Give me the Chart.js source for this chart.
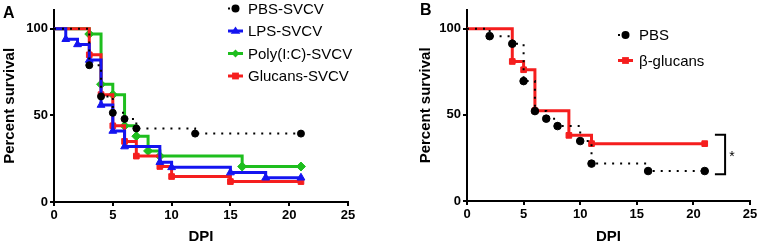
<!DOCTYPE html>
<html>
<head>
<meta charset="utf-8">
<script src="https://cdn.jsdelivr.net/npm/chart.js@4.4.1/dist/chart.umd.min.js"></script>
<style>
  html, body { margin: 0; padding: 0; background: #fff; }
  #wrap { position: relative; width: 760px; height: 246px; overflow: hidden; }
  #wrap canvas { position: absolute; top: 0; }
  #chartA { left: 0; }
  #chartB { left: 380px; }
  .panel { position: absolute; font: bold 16px Arial, "Liberation Sans", sans-serif; color: #000; line-height: normal; }
</style>
</head>
<body>
<div id="wrap">
  <canvas id="chartA" width="380" height="246"></canvas>
  <canvas id="chartB" width="380" height="246"></canvas>
  <div class="panel" style="left:3px;top:4px">A</div>
  <div class="panel" style="left:420px;top:1px">B</div>
</div>
<script>
// ticks
const dpiTicks = [0, 5, 10, 15, 20, 25];
const survivalTicks = [0, 50, 100];

// Panel A - dias post infeccion y % supervivencia
const pbsA_days = [0, 3, 4, 5, 6, 7, 12, 21];
const pbsA_surv = [100, 79, 61, 51.5, 48, 42.5, 39.5, 39.5];
const lpsA_days = [0, 1, 2, 3, 4, 5, 6, 9, 10, 15, 18, 21];
const lpsA_surv = [100, 94, 91, 82, 56, 41, 32, 23, 20, 17, 14, 14];
const polyA_days = [0, 3, 4, 5, 6, 7, 8, 9, 16, 21];
const polyA_surv = [100, 97, 68, 62, 44, 38, 29.5, 26.5, 20.5, 20.5];
const glucA_days = [0, 3, 4, 5, 6, 7, 9, 10, 15, 21];
const glucA_surv = [100, 85, 62, 44, 35, 26.5, 20.5, 14.7, 11.8, 11.8];

// Panel B
const pbsB_days = [0, 2, 4, 5, 6, 7, 8, 10, 11, 16, 21];
const pbsB_surv = [100, 95.7, 91.3, 69.6, 52.2, 47.8, 43.5, 34.8, 21.7, 17.4, 17.4];
const glucB_days = [0, 4, 5, 6, 9, 11, 21];
const glucB_surv = [100, 81, 76.2, 52.4, 38.1, 33.3, 33.3];

const FONT = "Arial, 'Liberation Sans', Helvetica, sans-serif";
const BLACK = '#000000';
const BLUE = 'rgb(20,20,240)';
const GREEN = 'rgb(30,190,30)';
const RED = 'rgb(245,30,30)';

function toPoints(days, surv) {
  return days.map((d, i) => ({ x: d, y: surv[i] }));
}

function kmSet(label, days, surv, color, style, dotted, radius, order) {
  return {
    label: label,
    data: toPoints(days, surv),
    borderColor: color,
    backgroundColor: color,
    borderWidth: dotted ? 2 : 3,
    borderDash: dotted ? [2, 6] : [],
    stepped: 'before',
    pointStyle: style,
    pointRadius: days.map((d, i) => i === 0 ? 0 : radius),
    pointBorderWidth: 1,
    pointBorderColor: color,
    pointBackgroundColor: color,
    fill: false,
    order: order
  };
}

// dibuja un marcador sencillo
function marker(ctx, style, x, y, r, color) {
  ctx.save();
  ctx.fillStyle = color;
  ctx.beginPath();
  if (style === 'circle') {
    ctx.arc(x, y, r, 0, Math.PI * 2);
  } else if (style === 'triangle') {
    ctx.moveTo(x, y - r * 1.1);
    ctx.lineTo(x + r * 1.2, y + r * 0.7);
    ctx.lineTo(x - r * 1.2, y + r * 0.7);
    ctx.closePath();
  } else if (style === 'rectRot') {
    ctx.moveTo(x, y - r);
    ctx.lineTo(x + r, y);
    ctx.lineTo(x, y + r);
    ctx.lineTo(x - r, y);
    ctx.closePath();
  } else {
    ctx.rect(x - r * 0.85, y - r * 0.85, r * 1.7, r * 1.7);
  }
  ctx.fill();
  ctx.restore();
}

function legendPlugin(x1, x2, textX, y0, dy) {
  return {
    id: 'kmLegend',
    afterDraw(chart) {
      const ctx = chart.ctx;
      chart.data.datasets.forEach((ds, i) => {
        const y = y0 + i * dy;
        ctx.save();
        ctx.strokeStyle = ds.borderColor;
        ctx.lineWidth = ds.borderWidth;
        ctx.setLineDash(ds.borderDash);
        ctx.beginPath();
        ctx.moveTo(x1, y);
        ctx.lineTo(x2, y);
        ctx.stroke();
        ctx.restore();
        marker(ctx, ds.pointStyle, (x1 + x2) / 2, y, 4, ds.borderColor);
        ctx.save();
        ctx.fillStyle = '#000';
        ctx.font = '15px ' + FONT;
        ctx.textBaseline = 'middle';
        ctx.textAlign = 'left';
        ctx.fillText(ds.label, textX, y + 1);
        ctx.restore();
      });
    }
  };
}

function scaleOptions(yWidth, xHeight) {
  const tickFont = { family: FONT, size: 13, weight: 'bold' };
  const titleFont = { family: FONT, size: 15, weight: 'bold' };
  const grid = { display: true, drawOnChartArea: false, drawTicks: true, tickLength: 4, color: BLACK, lineWidth: 2 };
  const border = { display: true, color: BLACK, width: 2 };
  return {
    x: {
      type: 'linear', min: 0, max: 25,
      afterBuildTicks: s => { s.ticks = dpiTicks.map(v => ({ value: v })); },
      afterFit: s => { s.height = xHeight; },
      grid: grid, border: border,
      ticks: { color: BLACK, font: tickFont, padding: 2, maxRotation: 0 },
      title: { display: true, text: 'DPI', color: BLACK, font: titleFont, padding: { top: 0, bottom: 0 } }
    },
    y: {
      type: 'linear', min: 0, max: 111,
      afterBuildTicks: s => { s.ticks = survivalTicks.map(v => ({ value: v })); },
      afterFit: s => { s.width = yWidth; },
      grid: grid, border: border,
      ticks: { color: BLACK, font: tickFont, padding: 2 },
      title: { display: true, text: 'Percent survival', color: BLACK, font: titleFont, padding: { top: 1, bottom: 0 } }
    }
  };
}

const chartA = new Chart(document.getElementById('chartA'), {
  type: 'line',
  data: {
    datasets: [
      kmSet('PBS-SVCV', pbsA_days, pbsA_surv, BLACK, 'circle', true, 3.5, 0),
      kmSet('LPS-SVCV', lpsA_days, lpsA_surv, BLUE, 'triangle', false, 4.5, 1),
      kmSet('Poly(I:C)-SVCV', polyA_days, polyA_surv, GREEN, 'rectRot', false, 4.5, 3),
      kmSet('Glucans-SVCV', glucA_days, glucA_surv, RED, 'rect', false, 4, 2)
    ]
  },
  options: {
    responsive: false,
    animation: false,
    layout: { padding: { left: 0, right: 32, top: 5, bottom: 0 } },
    plugins: { legend: { display: false }, tooltip: { enabled: false } },
    scales: scaleOptions(54, 44)
  },
  plugins: [legendPlugin(228, 243, 248, 8.5, 22.5)]
});

// corchete de significancia en B
const bracketPlugin = {
  id: 'bracket',
  afterDraw(chart) {
    const ctx = chart.ctx;
    const xs = chart.scales.x, ys = chart.scales.y;
    const xa = xs.getPixelForValue(21.9), xb = xs.getPixelForValue(22.8);
    const yt = ys.getPixelForValue(38.5), yb = ys.getPixelForValue(15.5);
    ctx.save();
    ctx.strokeStyle = '#000';
    ctx.lineWidth = 2;
    ctx.beginPath();
    ctx.moveTo(xa, yt);
    ctx.lineTo(xb, yt);
    ctx.lineTo(xb, yb);
    ctx.lineTo(xa, yb);
    ctx.stroke();
    ctx.fillStyle = '#000';
    ctx.font = '14px ' + FONT;
    ctx.textAlign = 'center';
    ctx.textBaseline = 'middle';
    ctx.fillText('*', xs.getPixelForValue(23.4), ys.getPixelForValue(25.5));
    ctx.restore();
  }
};

const chartB = new Chart(document.getElementById('chartB'), {
  type: 'line',
  data: {
    datasets: [
      kmSet('PBS', pbsB_days, pbsB_surv, BLACK, 'circle', true, 3.8, 0),
      kmSet('\u03b2-glucans', glucB_days, glucB_surv, RED, 'rect', false, 4, 1)
    ]
  },
  options: {
    responsive: false,
    animation: false,
    clip: false,
    layout: { padding: { left: 36, right: 10, top: 7, bottom: 0 } },
    plugins: { legend: { display: false }, tooltip: { enabled: false } },
    scales: scaleOptions(51, 45)
  },
  plugins: [legendPlugin(238, 253, 259, 35, 25.5), bracketPlugin]
});
</script>
</body>
</html>
